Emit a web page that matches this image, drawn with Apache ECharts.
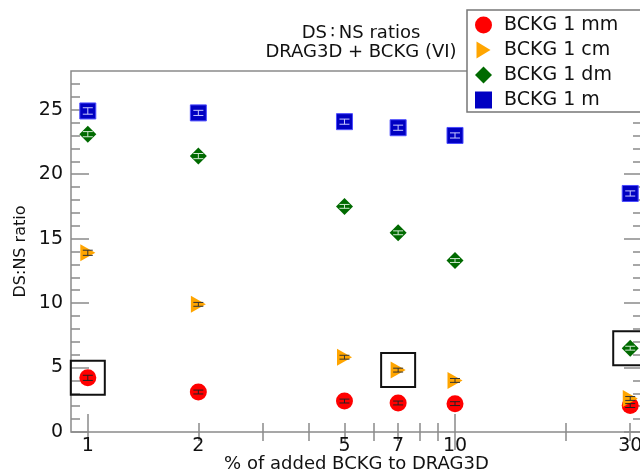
<!DOCTYPE html>
<html lang="en">
<head>
    <meta charset="UTF-8">
    <title>DS:NS ratios</title>
    <script src="https://cdn.jsdelivr.net/npm/echarts@6/dist/echarts.min.js"></script>
    <style>
        html, body { margin: 0; padding: 0; background: #fff; }
        #main { width: 640px; height: 472px; }
    </style>
</head>
<body>
    <div id="main"></div>
    <script type="text/javascript">
        // data
        var percents = [1, 2, 5, 7, 10, 30];
        var ratioMm = [4.2, 3.1, 2.4, 2.25, 2.2, 2.05];
        var ratioCm = [13.9, 9.9, 5.8, 4.8, 4.0, 2.6];
        var ratioDm = [23.1, 21.4, 17.5, 15.45, 13.3, 6.5];
        var ratioM = [24.9, 24.75, 24.07, 23.6, 23.0, 18.5];
        var errMm = [0.2, 0.15, 0.15, 0.15, 0.15, 0.15];
        var errCm = [0.2, 0.15, 0.15, 0.15, 0.15, 0.15];
        var errDm = [0.2, 0.2, 0.15, 0.15, 0.15, 0.15];
        var errM = [0.25, 0.2, 0.2, 0.2, 0.2, 0.2];
        var xMajorTicks = [1, 10];
        var xMinorTicks = [2, 3, 4, 5, 6, 7, 8, 9, 20, 30];
        var yLabels = [0, 5, 10, 15, 20, 25];
        var yMinorTicks = [1, 2, 3, 4, 6, 7, 8, 9, 11, 12, 13, 14, 16, 17, 18, 19, 21, 22, 23, 24, 26, 27];

        var FONT = 'DejaVu Sans';
        var AXIS_GREY = '#8a8a8a';

        function pairs(ys) {
            return percents.map(function (x, i) { return [x, ys[i]]; });
        }
        function errPairs(ys, errs) {
            return percents.map(function (x, i) { return [x, ys[i], errs[i]]; });
        }

        function xAxisDef(pos, ticks, len, labels) {
            return {
                type: 'log', min: 0.9, max: 32.3, position: pos,
                axisLine: { show: false }, splitLine: { show: false },
                axisTick: { show: true, inside: true, length: len, customValues: ticks,
                    lineStyle: { color: AXIS_GREY, width: 1.5 } },
                axisLabel: labels ? { show: true, customValues: labels, fontSize: 19, fontFamily: FONT, color: '#111', margin: 5 } : { show: false }
            };
        }
        function yAxisDef(pos, ticks, len, labels) {
            return {
                type: 'value', min: 0, max: 28, position: pos,
                axisLine: { show: false }, splitLine: { show: false },
                axisTick: { show: true, inside: true, length: len, customValues: ticks,
                    lineStyle: { color: AXIS_GREY, width: 1.5 } },
                axisLabel: labels ? { show: true, customValues: labels, fontSize: 19, fontFamily: FONT, color: '#111', margin: 8 } : { show: false }
            };
        }

        // error bars drawn as small capped lines inside the markers
        function errorSeries(ys, errs, color) {
            return {
                type: 'custom',
                xAxisIndex: 0, yAxisIndex: 0,
                z: 5,
                silent: true,
                data: errPairs(ys, errs),
                renderItem: function (params, api) {
                    var x = api.value(0), y = api.value(1), e = api.value(2);
                    var lo = api.coord([x, y - e]);
                    var hi = api.coord([x, y + e]);
                    var w = 5;
                    var style = { stroke: color, lineWidth: 1 };
                    return {
                        type: 'group',
                        children: [
                            { type: 'line', shape: { x1: lo[0], y1: lo[1], x2: hi[0], y2: hi[1] }, style: style },
                            { type: 'line', shape: { x1: lo[0] - w, y1: lo[1], x2: lo[0] + w, y2: lo[1] }, style: style },
                            { type: 'line', shape: { x1: hi[0] - w, y1: hi[1], x2: hi[0] + w, y2: hi[1] }, style: style }
                        ]
                    };
                }
            };
        }

        var boxStyle = {
            symbol: 'rect',
            symbolSize: 34,
            itemStyle: { color: 'rgba(0,0,0,0)', borderColor: '#111', borderWidth: 2 },
            label: { show: false },
            silent: true
        };

        var myChart = echarts.init(document.getElementById('main'));

        var option = {
            backgroundColor: '#fff',
            animation: false,
            title: {
                text: 'DS\u2009\u2236\u2009NS ratios\nDRAG3D + BCKG (VI)',
                left: 356, top: 19, textAlign: 'center',
                textStyle: { fontSize: 18, fontWeight: 'normal', fontFamily: FONT, color: '#111', lineHeight: 19 }
            },
            legend: {
                orient: 'vertical',
                left: 467, top: 10,
                padding: [5, 60, 2, 8],
                itemGap: 5,
                itemWidth: 17, itemHeight: 17,
                backgroundColor: '#fff',
                borderColor: '#777', borderWidth: 1.5,
                textStyle: { fontSize: 19, fontFamily: FONT, color: '#111', lineHeight: 20, padding: [0, 0, 0, 7] },
                data: [
                    { name: 'BCKG 1 mm', icon: 'circle' },
                    { name: 'BCKG 1 cm', icon: 'path://M0,0 L14,8.5 L0,17 Z' },
                    { name: 'BCKG 1 dm', icon: 'diamond' },
                    { name: 'BCKG 1 m', icon: 'path://M0,0 L14,0 L14,14 L0,14 Z', itemStyle: { borderWidth: 0 } }
                ]
            },
            grid: {
                left: 71, right: -2, top: 71, bottom: 40,
                outerBoundsMode: 'none',
                show: true, borderColor: AXIS_GREY, borderWidth: 1.5, backgroundColor: '#fff'
            },
            xAxis: [
                Object.assign(xAxisDef('bottom', xMajorTicks, 18, percents), {
                    name: '% of added BCKG to DRAG3D', nameLocation: 'middle', nameGap: 23,
                    nameMoveOverlap: false,
                    nameTextStyle: { fontSize: 18, fontFamily: FONT, color: '#111' }
                }),
                xAxisDef('bottom', xMinorTicks, 9, null),
                xAxisDef('top', xMajorTicks, 18, null),
                xAxisDef('top', xMinorTicks, 9, null)
            ],
            yAxis: [
                Object.assign(yAxisDef('left', yLabels, 18, yLabels), {
                    name: 'DS:NS ratio', nameLocation: 'middle', nameGap: 42, nameRotate: 90,
                    nameMoveOverlap: false,
                    nameTextStyle: { fontSize: 16, fontFamily: FONT, color: '#111' }
                }),
                yAxisDef('left', yMinorTicks, 9, null),
                yAxisDef('right', yLabels, 18, null),
                yAxisDef('right', yMinorTicks, 9, null)
            ],
            series: [
                {
                    name: 'BCKG 1 mm', type: 'scatter', data: pairs(ratioMm),
                    symbol: 'circle', symbolSize: 17,
                    itemStyle: { color: '#ff0000', opacity: 1 },
                    markPoint: Object.assign({ data: [{ coord: [percents[0], ratioMm[0]] }] }, boxStyle)
                },
                {
                    name: 'BCKG 1 cm', type: 'scatter', data: pairs(ratioCm),
                    symbol: 'triangle', symbolSize: [17, 15], symbolRotate: -90,
                    itemStyle: { color: '#ffa500', opacity: 1 },
                    markPoint: Object.assign({ data: [{ coord: [percents[3], ratioCm[3]] }] }, boxStyle)
                },
                {
                    name: 'BCKG 1 dm', type: 'scatter', data: pairs(ratioDm),
                    symbol: 'diamond', symbolSize: 17,
                    itemStyle: { color: '#006a00', opacity: 1 },
                    markPoint: Object.assign({ data: [{ coord: [percents[5], ratioDm[5]] }] }, boxStyle)
                },
                {
                    name: 'BCKG 1 m', type: 'scatter', data: pairs(ratioM),
                    symbol: 'rect', symbolSize: 16,
                    itemStyle: { color: '#0000c2', borderColor: '#4c4cff', borderWidth: 1, opacity: 1 }
                },
                errorSeries(ratioMm, errMm, '#222'),
                errorSeries(ratioCm, errCm, '#333'),
                errorSeries(ratioDm, errDm, '#cfe8cf'),
                errorSeries(ratioM, errM, '#c8c8ff')
            ]
        };

        myChart.setOption(option);
    </script>
</body>
</html>
